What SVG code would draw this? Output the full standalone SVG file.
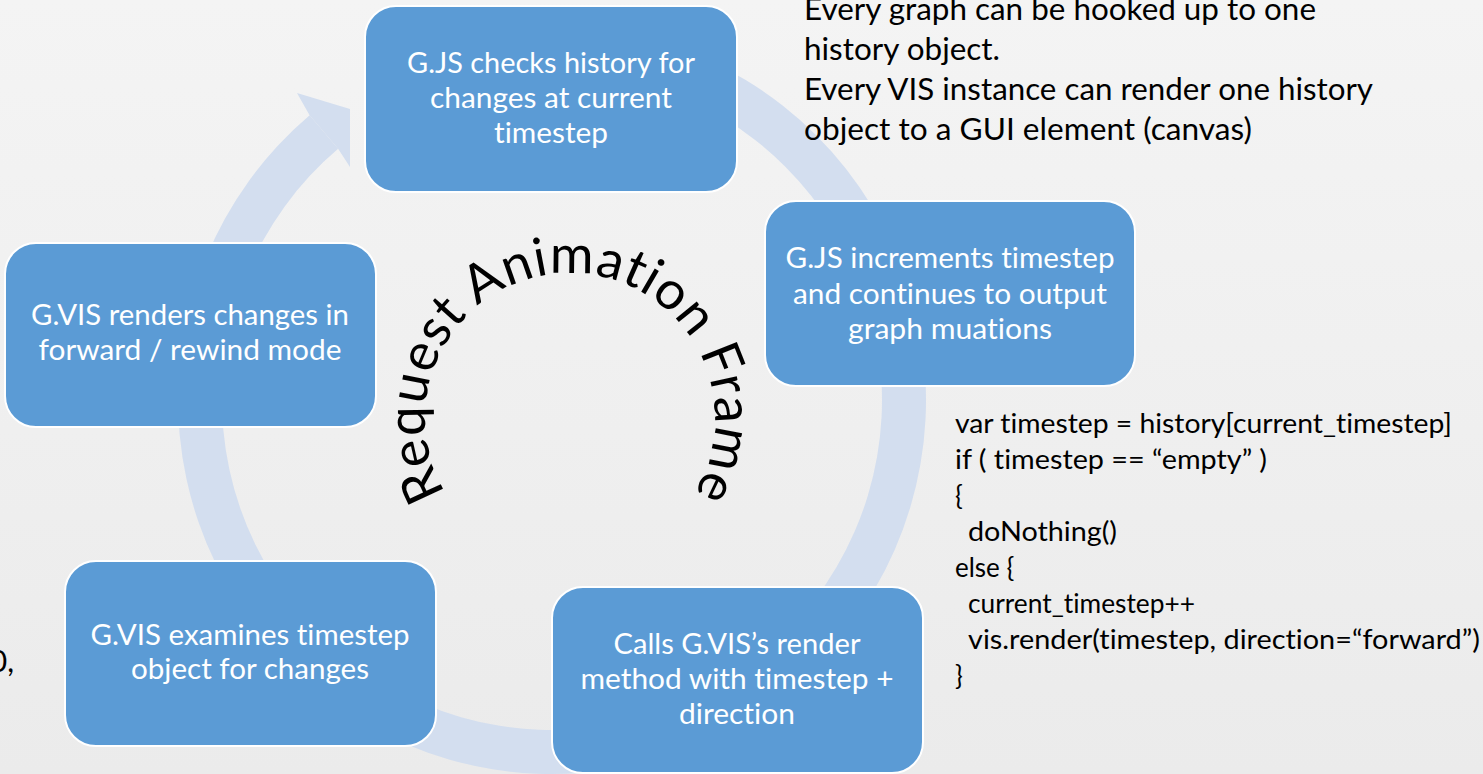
<svg xmlns="http://www.w3.org/2000/svg" width="1483" height="774" viewBox="0 0 1483 774">
  <defs>
    <linearGradient id="bg" x1="0" y1="0" x2="0" y2="1">
      <stop offset="0" stop-color="#f4f4f4"/>
      <stop offset="1" stop-color="#ebebeb"/>
    </linearGradient>
    <!-- baseline arc for the curved title -->
    <path id="titleArc" d="M 445.7 492.7 A 145 145 0 1 1 694.3 492.7"/>
  </defs>
  <style>
    text { font-variant-ligatures: none; font-feature-settings: "liga" 0, "dlig" 0; }
    .node rect { fill: #5b9bd5; stroke: #ffffff; stroke-width: 2; }
    .node text { fill: #ffffff; font-family: Lato, "Open Sans", sans-serif; font-size: 29px; text-anchor: middle; }
    .ring { fill: #d3deef; }
    .note { fill: #000000; font-family: Lato, "Open Sans", sans-serif; font-size: 30px; }
    .code { fill: #000000; font-family: Lato, "Open Sans", sans-serif; font-size: 26px; }
    .title { fill: #000000; font-family: Lato, "Open Sans", sans-serif; font-size: 53px; }
  </style>

  <rect x="0" y="0" width="1483" height="774" fill="url(#bg)"/>

  <!-- circular cycle arrow behind the steps -->
  <g id="connectors">
    <path class="ring" d="M 487.05 31.68 A 374 374 0 1 1 309.6 115.2 L 338.1 148.7 A 330 330 0 1 0 494.7 75.01 Z"/>
    <polygon class="ring" points="309.6,115.2 297,93 350,109 350,167 338.1,148.7"/>
  </g>

  <text class="title"><textPath href="#titleArc" textLength="612" lengthAdjust="spacing">Request Animation Frame</textPath></text>

  <g id="step-check" class="node">
    <rect x="365" y="6" width="372" height="186" rx="31"/>
    <text x="551" y="73" textLength="288" lengthAdjust="spacingAndGlyphs">G.JS checks history for</text>
    <text x="551" y="108" textLength="242" lengthAdjust="spacingAndGlyphs">changes at current</text>
    <text x="551" y="143" textLength="114" lengthAdjust="spacingAndGlyphs">timestep</text>
  </g>

  <g id="step-increment" class="node">
    <rect x="765" y="201" width="370" height="185" rx="31"/>
    <text x="950" y="268" textLength="329" lengthAdjust="spacingAndGlyphs">G.JS increments timestep</text>
    <text x="950" y="304" textLength="314" lengthAdjust="spacingAndGlyphs">and continues to output</text>
    <text x="950" y="339" textLength="204" lengthAdjust="spacingAndGlyphs">graph muations</text>
  </g>

  <g id="step-render-call" class="node">
    <rect x="552" y="587" width="371" height="186" rx="31"/>
    <text x="737" y="654" textLength="247" lengthAdjust="spacingAndGlyphs">Calls G.VIS’s render</text>
    <text x="737" y="689" textLength="313" lengthAdjust="spacingAndGlyphs">method with timestep +</text>
    <text x="737" y="724" textLength="116" lengthAdjust="spacingAndGlyphs">direction</text>
  </g>

  <g id="step-examine" class="node">
    <rect x="65" y="561" width="371" height="185" rx="31"/>
    <text x="250" y="645" textLength="319" lengthAdjust="spacingAndGlyphs">G.VIS examines timestep</text>
    <text x="250" y="679" textLength="238" lengthAdjust="spacingAndGlyphs">object for changes</text>
  </g>

  <g id="step-draw" class="node">
    <rect x="5" y="243" width="371" height="184" rx="31"/>
    <text x="190" y="325" textLength="318" lengthAdjust="spacingAndGlyphs">G.VIS renders changes in</text>
    <text x="190" y="360" textLength="303" lengthAdjust="spacingAndGlyphs">forward / rewind mode</text>
  </g>

  <g id="note-history" class="note">
    <text x="804" y="20" textLength="512" lengthAdjust="spacingAndGlyphs">Every graph can be hooked up to one</text>
    <text x="804" y="60" textLength="196" lengthAdjust="spacingAndGlyphs">history object.</text>
    <text x="804" y="100" textLength="569" lengthAdjust="spacingAndGlyphs">Every VIS instance can render one history</text>
    <text x="804" y="140" textLength="448" lengthAdjust="spacingAndGlyphs">object to a GUI element (canvas)</text>
  </g>

  <g id="note-code" class="code">
    <text x="955" y="433" textLength="497" lengthAdjust="spacingAndGlyphs">var timestep = history[current_timestep]</text>
    <text x="955" y="469" textLength="312" lengthAdjust="spacingAndGlyphs">if ( timestep == “empty” )</text>
    <text x="955" y="505">{</text>
    <text x="968" y="541" textLength="149" lengthAdjust="spacingAndGlyphs">doNothing()</text>
    <text x="955" y="577">else {</text>
    <text x="968" y="613" textLength="227" lengthAdjust="spacingAndGlyphs">current_timestep++</text>
    <text x="968" y="649" textLength="512" lengthAdjust="spacingAndGlyphs">vis.render(timestep, direction=“forward”)</text>
    <text x="955" y="685">}</text>
  </g>

  <g id="note-left" class="note">
    <text x="14" y="672" text-anchor="end">0,</text>
  </g>
</svg>
